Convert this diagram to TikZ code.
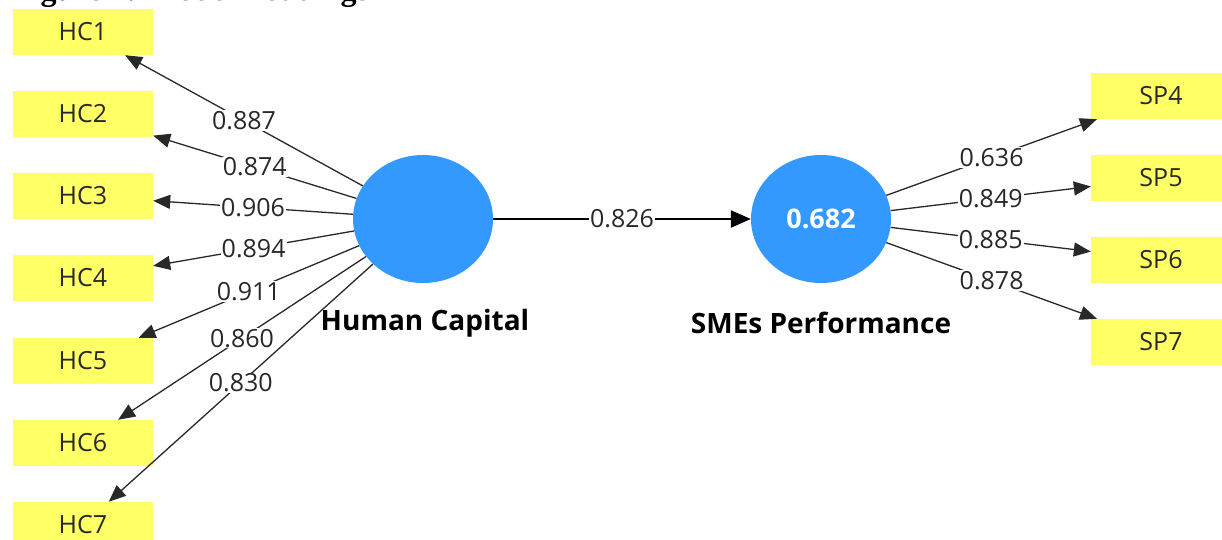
\documentclass[tikz,border=0pt]{standalone}
\usepackage{fontspec}
\setmainfont{Open Sans}
\newfontfamily\titlefont{Liberation Serif}
\usetikzlibrary{shapes.geometric,arrows.meta}
\definecolor{lvblue}{RGB}{51,153,255}
\definecolor{indyellow}{RGB}{255,255,102}
\definecolor{txtgray}{RGB}{40,40,40}
\tikzset{
  ind/.style={rectangle, fill=indyellow, minimum width=140pt, minimum height=46pt,
    inner sep=0pt, text=txtgray, font=\fontsize{25}{25}\selectfont},
  lv/.style={ellipse, fill=lvblue, minimum width=140pt, minimum height=128pt, inner sep=0pt,
    text=white, font=\bfseries\fontsize{27}{27}\selectfont},
  lvname/.style={text=black, font=\bfseries\fontsize{28}{28}\selectfont},
  ld/.style={fill=white, inner sep=1pt, text=txtgray, font=\fontsize{25}{25}\selectfont},
  loading/.style={draw=txtgray, line width=1.3pt, -{Triangle[length=17pt,width=14pt]}},
  pathcoef/.style={draw=black, line width=2.4pt, -{Triangle[length=20pt,width=17pt]}}
}
\begin{document}
\begin{tikzpicture}[x=1pt,y=-1pt]
\useasboundingbox (0,0) rectangle (1222,540);
\clip (0,0) rectangle (1222,540);

% caption above the figure
\node[anchor=base west, inner sep=0pt, font=\titlefont\bfseries\fontsize{32}{32}\selectfont]
  (title) at (12,1) {Figure 1: Model Loadings};

% latent variables
\node[lv] (hc) at (423,219) {};
\node[lv] (sp) at (821,219) {0.682};
\node[lvname] (hcname) at (425,323) {Human Capital};
\node[lvname] (spname) at (821,323) {SMEs Performance};

% indicators of Human Capital
\node[ind] (hc1) at (83,32) {HC1};
\node[ind] (hc2) at (83,114) {HC2};
\node[ind] (hc3) at (83,196) {HC3};
\node[ind] (hc4) at (83,278) {HC4};
\node[ind] (hc5) at (83,361) {HC5};
\node[ind] (hc6) at (83,443) {HC6};
\node[ind] (hc7) at (83,525) {HC7};

% indicators of SMEs Performance
\node[ind] (sp4) at (1161,96) {SP4};
\node[ind] (sp5) at (1161,178) {SP5};
\node[ind] (sp6) at (1161,260) {SP6};
\node[ind] (sp7) at (1161,342) {SP7};

% outer loadings
\draw[loading] (hc) -- node[ld] {0.887} (hc1);
\draw[loading] (hc) -- node[ld] {0.874} (hc2);
\draw[loading] (hc) -- node[ld] {0.906} (hc3);
\draw[loading] (hc) -- node[ld] {0.894} (hc4);
\draw[loading] (hc) -- node[ld] {0.911} (hc5);
\draw[loading] (hc) -- node[ld] {0.860} (hc6);
\draw[loading] (hc) -- node[ld] {0.830} (hc7);

\draw[loading] (sp) -- node[ld] {0.636} (sp4);
\draw[loading] (sp) -- node[ld] {0.849} (sp5);
\draw[loading] (sp) -- node[ld] {0.885} (sp6);
\draw[loading] (sp) -- node[ld] {0.878} (sp7);

% structural path
\draw[pathcoef] (hc) -- node[ld] {0.826} (sp);
\end{tikzpicture}
\end{document}
